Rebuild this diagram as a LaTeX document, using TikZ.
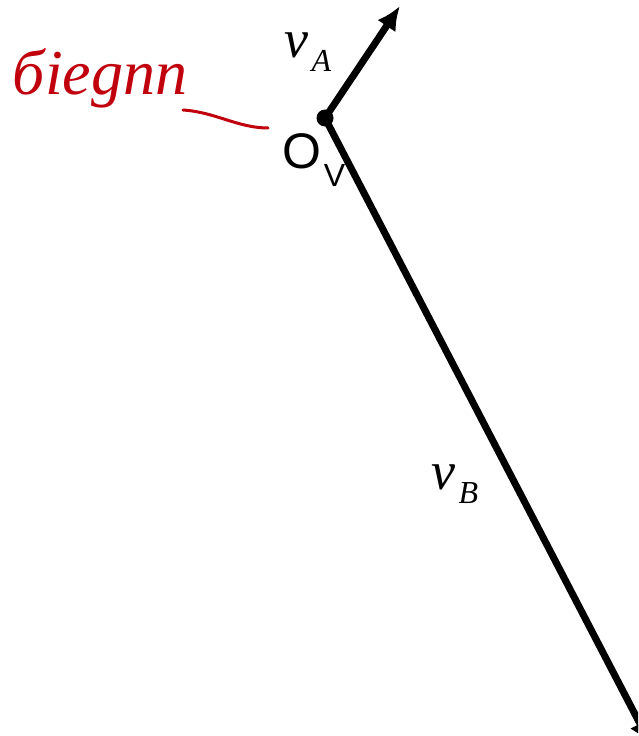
\documentclass[tikz,border=0pt]{standalone}
\usepackage{fontspec}
\setmainfont{Liberation Serif}
\setsansfont{Liberation Sans}
\usetikzlibrary{arrows.meta}
\definecolor{penred}{RGB}{192,0,12}
\begin{document}
\begin{tikzpicture}[
	x=1pt, y=-1pt,
	vec/.style={ line width=7pt, -{Latex[length=24pt,width=22pt]} },
	dot/.style={ circle, fill, inner sep=0pt, minimum size=17pt },
	lbl/.style={ inner sep=0pt, font=\itshape }
]
\useasboundingbox (0,0) rectangle (638,736);
\clip (0,0) rectangle (638,736);

\node at (325,118) (o) [dot] {};
\coordinate (a) at (400,6);
\coordinate (b) at (651,745);
\draw[vec] (o.center) -- (a);
\draw[vec] (o.center) -- (b);

\node at (308,52) (va) [lbl] {\fontsize{54}{54}\selectfont v\kern3pt\raisebox{-14pt}{\fontsize{32}{32}\selectfont A}};
\node at (455,484) (vb) [lbl] {\fontsize{54}{54}\selectfont v\kern3pt\raisebox{-14pt}{\fontsize{32}{32}\selectfont B}};
\node at (314,160) (ov) [inner sep=0pt, font=\sffamily] {\fontsize{50}{50}\selectfont O\kern2pt\raisebox{-18pt}{\fontsize{32}{32}\selectfont V}};

% handwritten note
\node at (100,78) (note) [inner sep=0pt, text=penred, font=\itshape] {\fontsize{64}{64}\selectfont бiegnn};
\coordinate (tip) at (268,128);
\draw[penred, line width=3pt, line cap=round] (183,110) .. controls (215,112) and (238,128) .. (tip);

\end{tikzpicture}
\end{document}
